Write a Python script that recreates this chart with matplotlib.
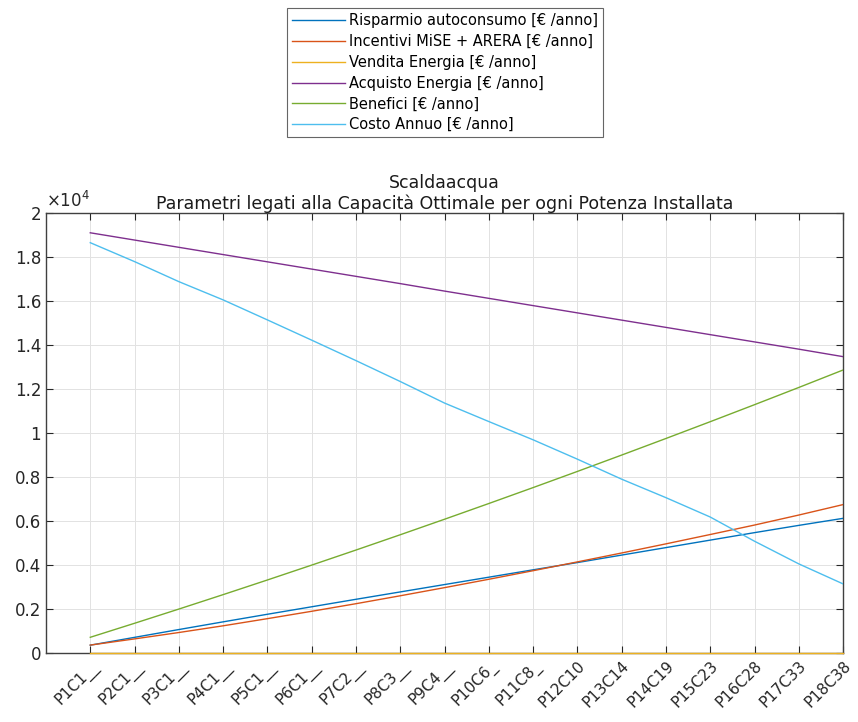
import matplotlib.pyplot as plt
import numpy as np
from matplotlib.ticker import FuncFormatter

# configurazioni (potenza + capacita)
configs = ['P1C1__', 'P2C1__', 'P3C1__', 'P4C1__', 'P5C1__', 'P6C1__', 'P7C2__', 'P8C3__',
           'P9C4__', 'P10C6_', 'P11C8_', 'P12C10', 'P13C14', 'P14C19', 'P15C23', 'P16C28',
           'P17C33', 'P18C38']

# valori [euro/anno]
risparmio = [355, 710, 1065, 1415, 1760, 2100, 2440, 2775, 3110, 3445, 3780, 4110,
             4450, 4790, 5130, 5470, 5800, 6120]
incentivi = [358, 640, 930, 1235, 1560, 1895, 2240, 2600, 2970, 3350, 3740, 4140,
             4545, 4960, 5385, 5815, 6270, 6745]
vendita = [0, 0, 0, 0, 0, 0, 0, 0, 0, 0, 0, 0, 0, 0, 0, 0, 0, 0]
acquisto = [19100, 18770, 18440, 18110, 17780, 17450, 17120, 16790, 16450, 16120,
            15790, 15460, 15130, 14800, 14470, 14140, 13810, 13470]
benefici = [713, 1350, 1996, 2652, 3318, 3994, 4679, 5374, 6079, 6794, 7518, 8252,
            8996, 9750, 10513, 11286, 12069, 12863]
costo = [18650, 17790, 16880, 16050, 15140, 14220, 13290, 12340, 11360, 10520, 9690,
         8810, 7900, 7060, 6180, 5080, 4050, 3140]

labels = ['Risparmio autoconsumo [€ /anno]', 'Incentivi MiSE + ARERA [€ /anno]',
          'Vendita Energia [€ /anno]', 'Acquisto Energia [€ /anno]',
          'Benefici [€ /anno]', 'Costo Annuo [€ /anno]']
series = [risparmio, incentivi, vendita, acquisto, benefici, costo]
colors = ['#0072BD', '#D95319', '#EDB120', '#7E2F8E', '#77AC30', '#4DBEEE']

plt.rcParams['font.family'] = ['DejaVu Sans']

fig = plt.figure(figsize=(8.58, 7.22), dpi=100)
ax = fig.add_axes([0.0536, 0.0956, 0.929, 0.6094])

x = np.arange(1, len(configs) + 1)
lines = []
for s, lab, c in zip(series, labels, colors):
    ln, = ax.plot(x, s, color=c, lw=1.0, label=lab, zorder=3)
    lines.append(ln)
# la vendita sta sullo zero: la lascio visibile sopra il bordo
lines[2].set_clip_on(False)
lines[2].set_zorder(4)

ax.set_xlim(0, 18)
ax.set_ylim(0, 20000)
ax.set_xticks(x)
ax.set_xticklabels(configs, rotation=45, ha='right', rotation_mode='anchor', fontsize=11)
ax.set_yticks(np.arange(0, 20001, 2000))
ax.yaxis.set_major_formatter(FuncFormatter(lambda v, p: '%g' % (v / 1e4)))
ax.tick_params(axis='y', labelsize=12)
ax.tick_params(direction='in', length=5, top=True, right=True, color='#262626',
               labelcolor='#262626')

ax.grid(True, color='#e2e2e2', lw=0.7)
ax.set_axisbelow(True)
for sp in ax.spines.values():
    sp.set_color('#404040')
    sp.set_linewidth(1.0)

# esponente asse y
ax.text(0.0, 1.005, r'$\times10^{4}$', transform=ax.transAxes, fontsize=12,
        color='#262626', ha='left', va='bottom')

ax.set_title('Scaldaacqua\nParametri legati alla Capacità Ottimale per ogni Potenza Installata',
             fontsize=12.5, color='#1a1a1a', pad=3, linespacing=1.15)

leg = fig.legend(handles=lines, loc='upper center', bbox_to_anchor=(0.5187, 0.999),
                 fontsize=10.5, frameon=True, fancybox=False, handlelength=3.6,
                 labelspacing=0.4, borderpad=0.35, handletextpad=0.3)
leg.get_frame().set_edgecolor('#404040')
leg.get_frame().set_linewidth(0.8)

fig.savefig('out.png', dpi=100)
